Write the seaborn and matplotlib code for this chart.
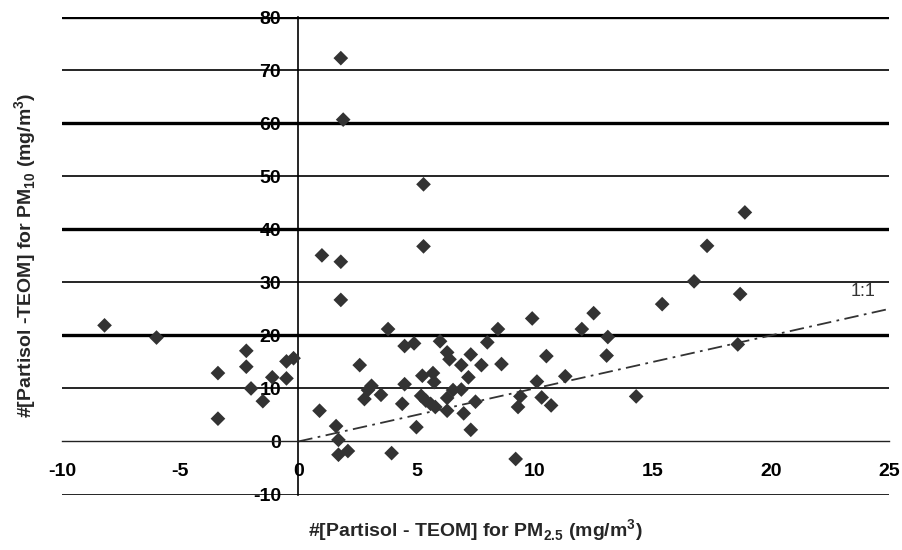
import matplotlib
matplotlib.use("Agg")
import matplotlib.pyplot as plt
import seaborn as sns
import pandas as pd

# PM2.5 difference (x) vs PM10 difference (y)
pm25_diff = [-8.2, -6.0, -3.4, -3.4, -2.2, -2.2, -2.0, -1.5, -1.1, -0.5, -0.5, -0.2,
             1.0, 1.8, 1.8, 1.8, 1.9, 5.3, 5.3, 3.8, 2.6, 4.5, 4.9, 6.0, 6.3, 6.4,
             6.9, 7.3, 7.2, 7.75, 8.0, 8.45, 8.6, 9.9, 10.5, 10.1, 10.3, 10.7, 9.4,
             9.3, 9.2, 11.3, 12.0, 12.5, 5.25, 5.7, 5.75, 4.5, 4.4, 5.0, 3.1, 2.95,
             2.8, 3.5, 0.9, 1.6, 1.7, 1.7, 2.1, 3.95, 5.2, 5.4, 5.6, 5.8, 6.3, 6.3,
             6.55, 6.9, 7.0, 7.3, 7.5, 18.9, 17.3, 16.75, 18.7, 15.4, 13.1, 13.05,
             18.6, 14.3]
pm10_diff = [21.9, 19.6, 12.9, 4.3, 17.1, 14.1, 10.0, 7.6, 12.1, 11.9, 15.1, 15.7,
             35.1, 33.9, 26.7, 72.3, 60.7, 48.5, 36.8, 21.2, 14.4, 18.0, 18.5, 18.9,
             16.8, 15.5, 14.4, 16.4, 12.1, 14.4, 18.7, 21.2, 14.6, 23.2, 16.1, 11.3,
             8.3, 6.8, 8.5, 6.5, -3.3, 12.3, 21.2, 24.2, 12.4, 12.9, 11.2, 10.8, 7.1,
             2.7, 10.5, 9.7, 8.0, 8.8, 5.8, 2.9, 0.3, -2.5, -1.8, -2.2, 8.6, 7.7, 7.1,
             6.5, 8.2, 5.8, 9.7, 9.8, 5.3, 2.2, 7.5, 43.2, 36.9, 30.2, 27.8, 25.9,
             19.7, 16.2, 18.3, 8.5]

one_to_one = [0, 25]
x_ticks = [-10, -5, 0, 5, 10, 15, 20, 25]
y_ticks = [-10, 0, 10, 20, 30, 40, 50, 60, 70, 80]
thick_lines = [20, 40, 60, 80]

df = pd.DataFrame({"pm25": pm25_diff, "pm10": pm10_diff})

sns.set_style("white")
plt.rcParams["font.family"] = ["Liberation Sans", "DejaVu Sans"]
plt.rcParams["axes.unicode_minus"] = False
plt.rcParams["mathtext.fontset"] = "custom"
plt.rcParams["mathtext.rm"] = "Liberation Sans"
plt.rcParams["mathtext.bf"] = "Liberation Sans:bold"

fig = plt.figure(figsize=(9.03, 5.5), dpi=100)
ax = fig.add_axes([62 / 903, 1 - 494.5 / 550, (889 - 62) / 903, (494.5 - 17.3) / 550])

# horizontal grid lines, heavier every 20
for yv in y_ticks:
    if yv == 0:
        continue
    lw = 2.4 if yv in thick_lines else 1.2
    ax.axhline(yv, color="black", lw=lw, zorder=1)

sns.lineplot(x=one_to_one, y=one_to_one, ax=ax, color="#333333", lw=1.3,
             linestyle=(0, (8, 3, 1.5, 3)), zorder=2)
ax.text(23.9, 28.3, "1:1", ha="center", va="center", fontsize=13, color="#333333")

sns.scatterplot(data=df, x="pm25", y="pm10", ax=ax, marker="D", s=56,
                color="#333333", edgecolor="none", zorder=3)

ax.set_xlim(-10, 25)
ax.set_ylim(-10, 80)
ax.set_xticks(x_ticks)
ax.set_yticks(y_ticks)

for side in ["top", "right"]:
    ax.spines[side].set_visible(False)
ax.spines["left"].set_position(("data", 0))
ax.spines["bottom"].set_position(("data", 0))
ax.spines["left"].set_linewidth(1.2)
ax.spines["bottom"].set_linewidth(1.0)
ax.spines["left"].set_color("black")
ax.spines["bottom"].set_color("#222222")

ax.tick_params(axis="x", direction="out", length=4.5, width=1, pad=11,
               labelsize=14, colors="black")
ax.tick_params(axis="y", direction="out", length=4.5, width=1, pad=8,
               labelsize=14, colors="black")
for lab in ax.get_xticklabels() + ax.get_yticklabels():
    lab.set_fontweight("bold")
ax.set_xlabel("")
ax.set_ylabel("")

fig.text(475 / 903, 1 - 531 / 550,
         r"#[Partisol - TEOM] for PM$_{\mathbf{2.5}}$ (mg/m$^{\mathbf{3}}$)",
         ha="center", va="center", fontsize=14, fontweight="bold")
fig.text(26 / 903, 1 - 255 / 550,
         r"#[Partisol -TEOM] for PM$_{\mathbf{10}}$ (mg/m$^{\mathbf{3}}$)",
         ha="center", va="center", rotation=90, fontsize=14, fontweight="bold")

fig.savefig("out.png", dpi=100)
